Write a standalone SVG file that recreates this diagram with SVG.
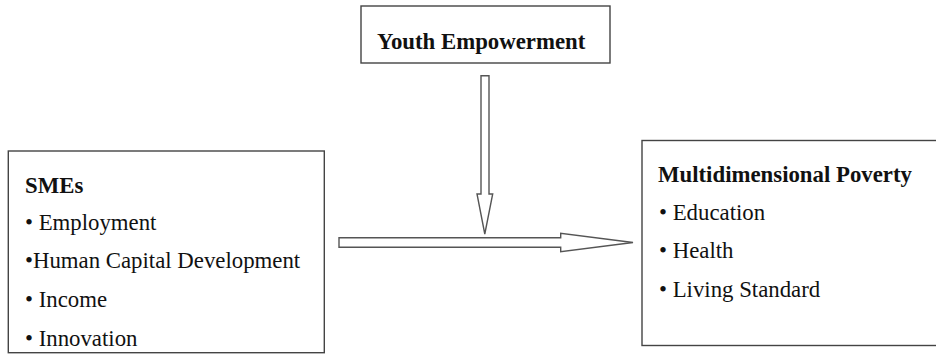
<svg xmlns="http://www.w3.org/2000/svg" width="936" height="358" viewBox="0 0 936 358">
<style>
.box{fill:#fff;stroke:#444;stroke-width:1.4}
.arrow{fill:#fff;stroke:#555;stroke-width:1.4;stroke-linejoin:miter}
text{font-family:"Liberation Serif","Times New Roman",serif;font-size:22.8px;fill:#111}
.b{font-weight:bold}
</style>
<rect width="936" height="358" fill="#fff"/>
<g id="youth">
<rect class="box" x="361" y="6" width="249" height="57"/>
<text class="b" x="377" y="49.3">Youth Empowerment</text>
</g>
<g id="smes">
<rect class="box" x="8.3" y="151" width="316" height="201.7"/>
<text class="b" x="25" y="192.6">SMEs</text>
<text x="25" y="230.3">• Employment</text>
<text x="25" y="268.3">•Human Capital Development</text>
<text x="25" y="307">• Income</text>
<text x="25" y="345.5">• Innovation</text>
</g>
<g id="poverty">
<rect class="box" x="642" y="140.5" width="300" height="205"/>
<text class="b" x="658" y="181.7">Multidimensional Poverty</text>
<text x="659" y="220">• Education</text>
<text x="659" y="258.3">• Health</text>
<text x="659" y="296.7">• Living Standard</text>
</g>
<g id="connectors">
<path class="arrow" d="M481,75.7 H489 V194 H492.7 L484.8,234 L477,194 H481 Z"/>
<path class="arrow" d="M339,237.7 H560.7 V233.3 L633,242.5 L560.7,251.7 V247.3 H339 Z"/>
</g>
</svg>
